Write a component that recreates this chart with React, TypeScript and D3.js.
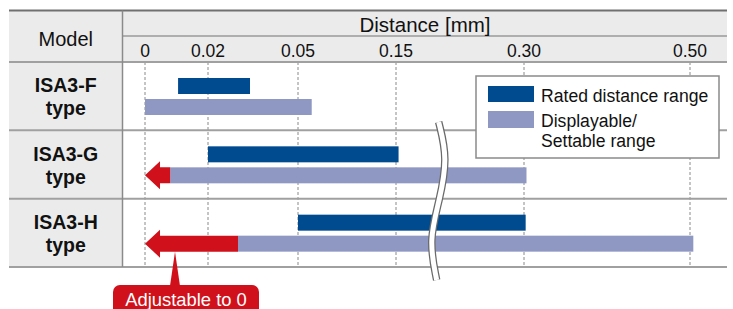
import * as d3 from 'd3';

const models = ['ISA3-F', 'ISA3-G', 'ISA3-H'];
const ratedStart = [0.0105, 0.02, 0.05];
const ratedEnd = [0.034, 0.153, 0.302];
const displayStart = [0, 0.008, 0.03];
const displayEnd = [0.064, 0.303, 0.504];
const adjustableToZero = [false, true, true];
const tickValues = [0, 0.02, 0.05, 0.15, 0.3, 0.5];
const tickLabels = ['0', '0.02', '0.05', '0.15', '0.30', '0.50'];
const legendLabels = [['Rated distance range'], ['Displayable/', 'Settable range']];

const RATED = '#004a8f';
const DISPLAY = '#8f98c3';
const RED = '#d0111b';
const HEAD_BG = '#ebebeb';
const FONT = '"Liberation Sans", Arial, Helvetica, sans-serif';

export default function App() {
  const width = 733;
  const height = 309;
  const left = 9;
  const right = 727;
  const colX = 122.5;
  const top = 10.5;
  const headMid = 36;
  const headBottom = 62;
  const bottom = 267;

  // broken (piecewise) distance axis
  const x = d3.scaleLinear(tickValues, [145, 208, 298, 396, 524, 690]);
  const y = d3.scaleBand(models, [headBottom, bottom]);
  const barH = 16;
  const ratedOff = 16;
  const dispOff = 37;

  const breakX = x(0.2);
  const wave = d3.line().curve(d3.curveBasis)([
    [breakX, 122],
    [breakX + 9, 158],
    [breakX + 1, 200],
    [breakX - 10, 240],
    [breakX - 2, 280],
  ]);

  const arrowPath = (i: number) => {
    const yc = y(models[i])! + dispOff + barH / 2;
    const x0 = x(0);
    const hb = x0 + 15;
    const x1 = x(displayStart[i]);
    return `M${x0},${yc} L${hb},${yc - 14} L${hb},${yc - barH / 2} L${x1},${yc - barH / 2} L${x1},${yc + barH / 2} L${hb},${yc + barH / 2} L${hb},${yc + 14} Z`;
  };

  const hIdx = 2;
  const pointerTipY = y(models[hIdx])! + dispOff + barH;
  const pointerX = x(0) + 30;
  const calloutTop = 285;

  return (
    <svg width={width} height={height} style={{ position: 'absolute', left: 0, top: 0 }} fontFamily={FONT}>
      <rect x={0} y={0} width={width} height={height} fill="#fff" />
      {/* header and model column backgrounds */}
      <rect x={left} y={top} width={right - left} height={headBottom - top} fill={HEAD_BG} />
      <rect x={left} y={headBottom} width={colX - left} height={bottom - headBottom} fill={HEAD_BG} />

      {/* dotted grid */}
      {tickValues.map((t, i) => (
        <line key={i} x1={x(t)} x2={x(t)} y1={headBottom} y2={bottom} stroke="#8a8a8a" strokeWidth={1} strokeDasharray="3,2" />
      ))}

      {/* table lines */}
      <line x1={left} x2={right} y1={top} y2={top} stroke="#707070" strokeWidth={2} />
      <line x1={colX} x2={right} y1={headMid} y2={headMid} stroke="#9a9a9a" strokeWidth={1.5} />
      {[headBottom, ...models.slice(1).map((m) => y(m)!), bottom].map((yy, i) => (
        <line key={i} x1={left} x2={right} y1={yy} y2={yy} stroke="#a0a0a0" strokeWidth={2} />
      ))}
      <line x1={colX} x2={colX} y1={top} y2={bottom} stroke="#8a8a8a" strokeWidth={1.5} />

      {/* header text */}
      <text x={(left + colX) / 2} y={46} textAnchor="middle" fontSize={20} fill="#111">Model</text>
      <text x={425} y={31.5} textAnchor="middle" fontSize={20.5} fill="#111">Distance [mm]</text>
      {tickValues.map((t, i) => (
        <text key={i} x={x(t)} y={57} textAnchor="middle" fontSize={17.5} fill="#111">{tickLabels[i]}</text>
      ))}

      {/* row labels */}
      {models.map((m) => {
        const c = y(m)! + y.bandwidth() / 2;
        return (
          <text key={m} x={(left + colX) / 2} textAnchor="middle" fontSize={19.5} fontWeight="bold" fill="#111">
            <tspan x={(left + colX) / 2} y={c - 4}>{m}</tspan>
            <tspan x={(left + colX) / 2} y={c + 19}>type</tspan>
          </text>
        );
      })}

      {/* bars */}
      {models.map((m, i) => (
        <g key={m}>
          <rect x={x(ratedStart[i])} y={y(m)! + ratedOff} width={x(ratedEnd[i]) - x(ratedStart[i])} height={barH} fill={RATED} />
          <rect x={x(displayStart[i])} y={y(m)! + dispOff} width={x(displayEnd[i]) - x(displayStart[i])} height={barH} fill={DISPLAY} />
          {adjustableToZero[i] && <path d={arrowPath(i)} fill={RED} />}
        </g>
      ))}

      {/* axis break */}
      <path d={wave!} fill="none" stroke="#6a6a6a" strokeWidth={7.5} />
      <path d={wave!} fill="none" stroke="#fff" strokeWidth={5} />

      {/* legend */}
      <rect x={476} y={76} width={243} height={82} fill="#fff" stroke="#8a8a8a" strokeWidth={1.5} />
      <rect x={488} y={86} width={46} height={16} fill={RATED} />
      <rect x={488} y={111} width={46} height={17} fill={DISPLAY} />
      <text x={541} y={101.5} fontSize={17.6} fill="#111">{legendLabels[0][0]}</text>
      <text x={541} y={126.5} fontSize={17.6} fill="#111">{legendLabels[1][0]}</text>
      <text x={541} y={147} fontSize={17.6} fill="#111">{legendLabels[1][1]}</text>

      {/* callout */}
      <path d={`M${pointerX},${pointerTipY} L${pointerX + 5},${calloutTop + 1} L${pointerX - 5},${calloutTop + 1} Z`} fill={RED} />
      <rect x={113} y={calloutTop} width={146} height={40} rx={7} fill={RED} />
      <text x={186} y={306} textAnchor="middle" fontSize={18.4} fill="#fff">Adjustable to 0</text>
    </svg>
  );
}
